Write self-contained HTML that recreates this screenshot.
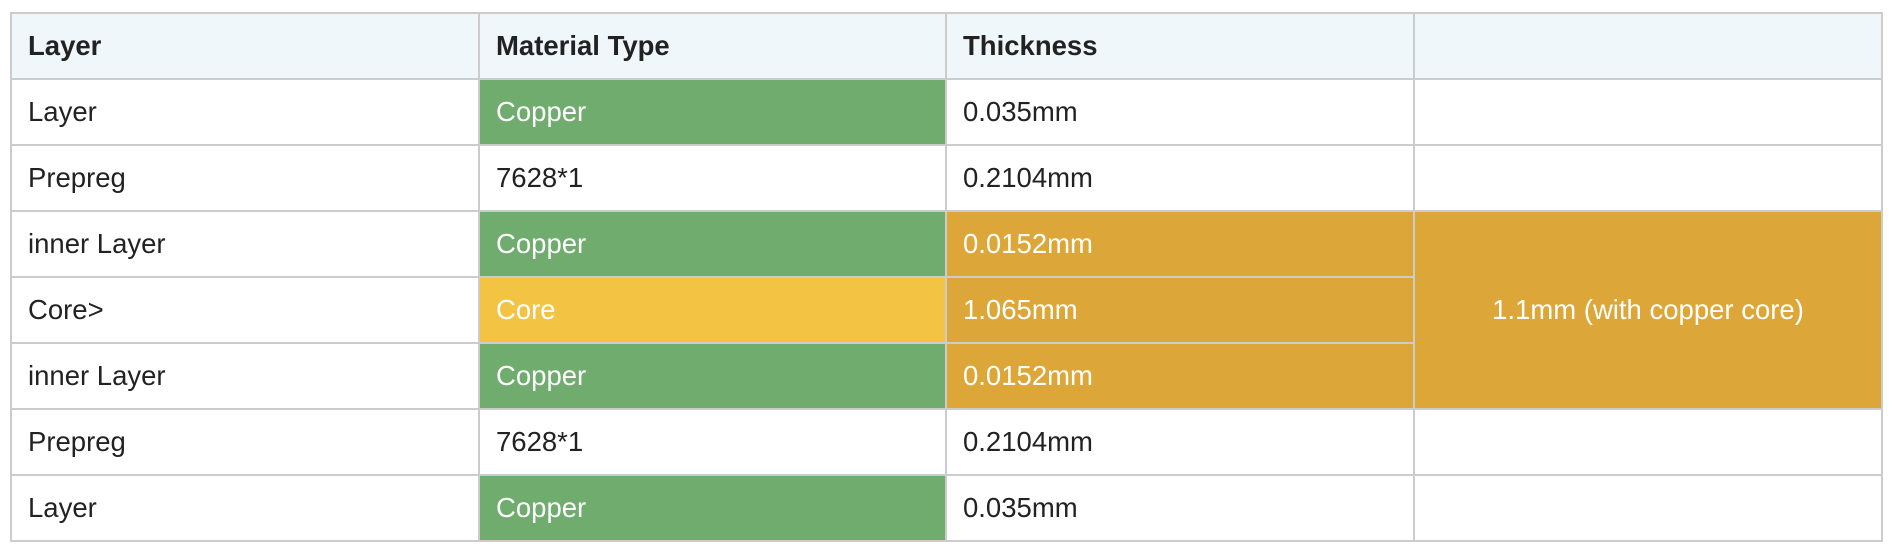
<!DOCTYPE html>
<html><head><meta charset="utf-8"><style>
html,body{margin:0;padding:0;background:#fff;width:1892px;height:550px;overflow:hidden}
table{position:absolute;left:10px;top:12px;width:1871px;border-collapse:collapse;table-layout:fixed;font-family:"Liberation Sans",Arial,sans-serif;font-size:27.5px;color:#222}
td,th{border:2px solid #cccccc;height:64px;padding:0 0 0 16px;text-align:left;vertical-align:middle;box-sizing:border-box}
th{background:#f0f7fb;font-weight:bold}
.g{background:#6fac6d;color:#fff}
.y{background:#f3c343;color:#fff}
.o{background:#dca638;color:#fff}
.c{text-align:center;padding:0}
</style></head><body>
<table>
<colgroup><col style="width:468px"><col style="width:467px"><col style="width:468px"><col style="width:468px"></colgroup>
<tr style="height:66px"><th>Layer</th><th>Material Type</th><th>Thickness</th><th></th></tr>
<tr style="height:66px"><td>Layer</td><td class="g">Copper</td><td>0.035mm</td><td></td></tr>
<tr style="height:66px"><td>Prepreg</td><td>7628*1</td><td>0.2104mm</td><td></td></tr>
<tr style="height:66px"><td>inner Layer</td><td class="g">Copper</td><td class="o">0.0152mm</td><td class="o c" rowspan="3">1.1mm (with copper core)</td></tr>
<tr style="height:66px"><td>Core&gt;</td><td class="y">Core</td><td class="o">1.065mm</td></tr>
<tr style="height:66px"><td>inner Layer</td><td class="g">Copper</td><td class="o">0.0152mm</td></tr>
<tr style="height:66px"><td>Prepreg</td><td>7628*1</td><td>0.2104mm</td><td></td></tr>
<tr style="height:66px"><td>Layer</td><td class="g">Copper</td><td>0.035mm</td><td></td></tr>
</table>
</body></html>
